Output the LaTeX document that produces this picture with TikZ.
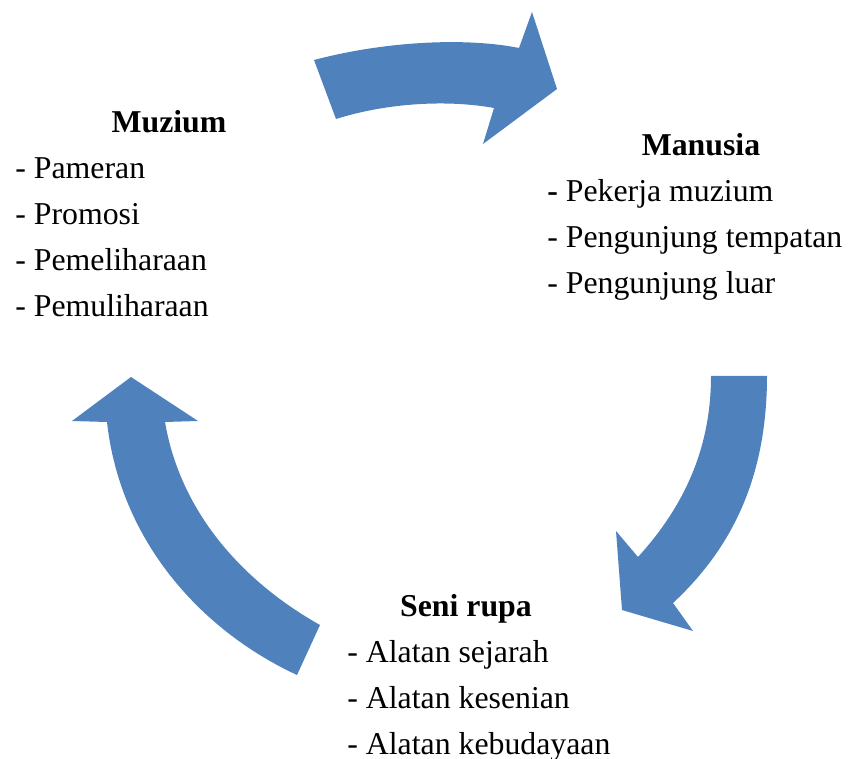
\documentclass[tikz,border=0pt]{standalone}
\usepackage{fontspec}
\setmainfont{Liberation Serif}
\usetikzlibrary{positioning}

\definecolor{cycleblue}{HTML}{4F81BD}

\begin{document}
\begin{tikzpicture}[
    x=0.02cm, y=-0.02cm,
    blockarrow/.style={fill=cycleblue, draw=none},
    head/.style={anchor=base, inner sep=0pt, font=\fontsize{18.1}{26.2}\selectfont\bfseries},
    items/.style={anchor=base west, inner sep=0pt, align=left, font=\fontsize{18.1}{26.2}\selectfont}
]
    \useasboundingbox (0,0) rectangle (849,759);

    % Three groups of text (items anchored at the last baseline)
    \node[head] (muzium) at (169,133) {Muzium};
    \node[items] (muziumlist) at (15,317)
        {- Pameran\\- Promosi\\- Pemeliharaan\\- Pemuliharaan};
    \node[head] (manusia) at (701,156) {Manusia};
    \node[items] (manusialist) at (547,294)
        {\textbf{-} Pekerja muzium\\- Pengunjung tempatan\\- Pengunjung luar};
    \node[head] (senirupa) at (466,617) {Seni rupa};
    \node[items] (senirupalist) at (347,755)
        {- Alatan sejarah\\- Alatan kesenian\\- Alatan kebudayaan};

    % Curved arrows of the cycle
    \fill[blockarrow] (314,60) .. controls (390,40) and (470,38) .. (519,48)
        -- (532,12) -- (557,89) -- (483,144) -- (494,108)
        .. controls (450,100) and (390,102) .. (336,119) -- cycle;
    \fill[blockarrow] (711,376) -- (767,376)
        .. controls (767,480) and (730,550) .. (673,603)
        -- (693,631) -- (622,610) -- (616,531) -- (638,557)
        .. controls (690,500) and (711,440) .. (711,376) -- cycle;
    \fill[blockarrow] (297,675) .. controls (200,630) and (120,540) .. (107,422)
        -- (72,421) -- (131,377) -- (198,421) -- (165,422)
        .. controls (180,510) and (240,580) .. (320,625) -- cycle;
\end{tikzpicture}
\end{document}
